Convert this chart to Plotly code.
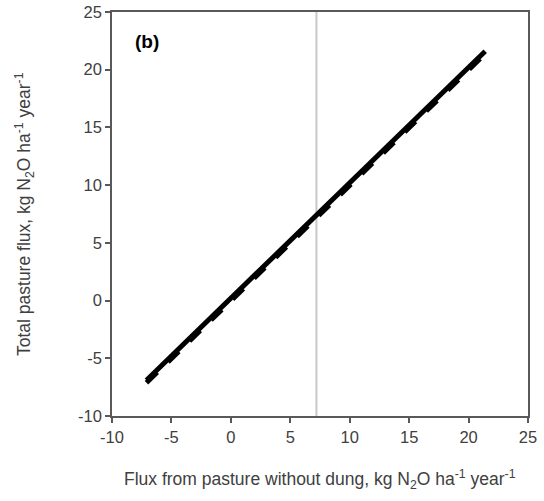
import plotly.graph_objects as go

# Data
x_line = [-7.1, 21.4]
y_solid = [-6.9, 21.6]
y_dashed = [-7.12, 21.38]
x_vline = 7.2
x_ticks = [-10, -5, 0, 5, 10, 15, 20, 25]
y_ticks = [-10, -5, 0, 5, 10, 15, 20, 25]
tick_text = ["-10", "-5", "0", "5", "10", "15", "20", "25"]

fig = go.Figure()
fig.add_trace(go.Scatter(x=[x_vline, x_vline], y=[-10, 25], mode="lines",
                         line=dict(color="#c8c8c8", width=2), showlegend=False))
fig.add_trace(go.Scatter(x=x_line, y=y_dashed, mode="lines",
                         line=dict(color="black", width=5, dash="dash"), showlegend=False))
fig.add_trace(go.Scatter(x=x_line, y=y_solid, mode="lines",
                         line=dict(color="black", width=5), showlegend=False))

font_family = "Liberation Sans, Arial, sans-serif"
axis_common = dict(showgrid=False, zeroline=False, showline=True, linecolor="#595959",
                   linewidth=1.5, mirror=True, ticks="outside", ticklen=5, tickwidth=1.5,
                   tickcolor="#595959", automargin=False,
                   tickfont=dict(size=16.5, color="#404040", family=font_family))

fig.update_layout(
    width=544, height=501,
    margin=dict(l=112, r=16, t=12, b=85),
    paper_bgcolor="white", plot_bgcolor="white",
    xaxis=dict(range=[-10, 25], tickvals=x_ticks, ticktext=tick_text, **axis_common),
    yaxis=dict(range=[-10, 25], tickvals=y_ticks, ticktext=tick_text, **axis_common),
    font=dict(family=font_family),
    annotations=[
        dict(text="<b>(b)</b>", x=0.084, y=0.928, xref="paper", yref="paper",
             xanchor="center", yanchor="middle",
             showarrow=False, font=dict(size=19, color="black", family=font_family)),
        dict(text="Flux from pasture without dung, kg N<sub>2</sub>O ha<sup>-1</sup> year<sup>-1</sup>",
             x=0.5, y=-0.158, xref="paper", yref="paper", showarrow=False,
             xanchor="center", yanchor="middle",
             font=dict(size=17.5, color="#404040", family=font_family)),
        dict(text="Total pasture flux, kg N<sub>2</sub>O ha<sup>-1</sup> year<sup>-1</sup>",
             x=-0.2115, y=0.5, xref="paper", yref="paper", showarrow=False, textangle=-90,
             xanchor="center", yanchor="middle",
             font=dict(size=17.5, color="#404040", family=font_family)),
    ],
)

fig.write_html("out.html")
